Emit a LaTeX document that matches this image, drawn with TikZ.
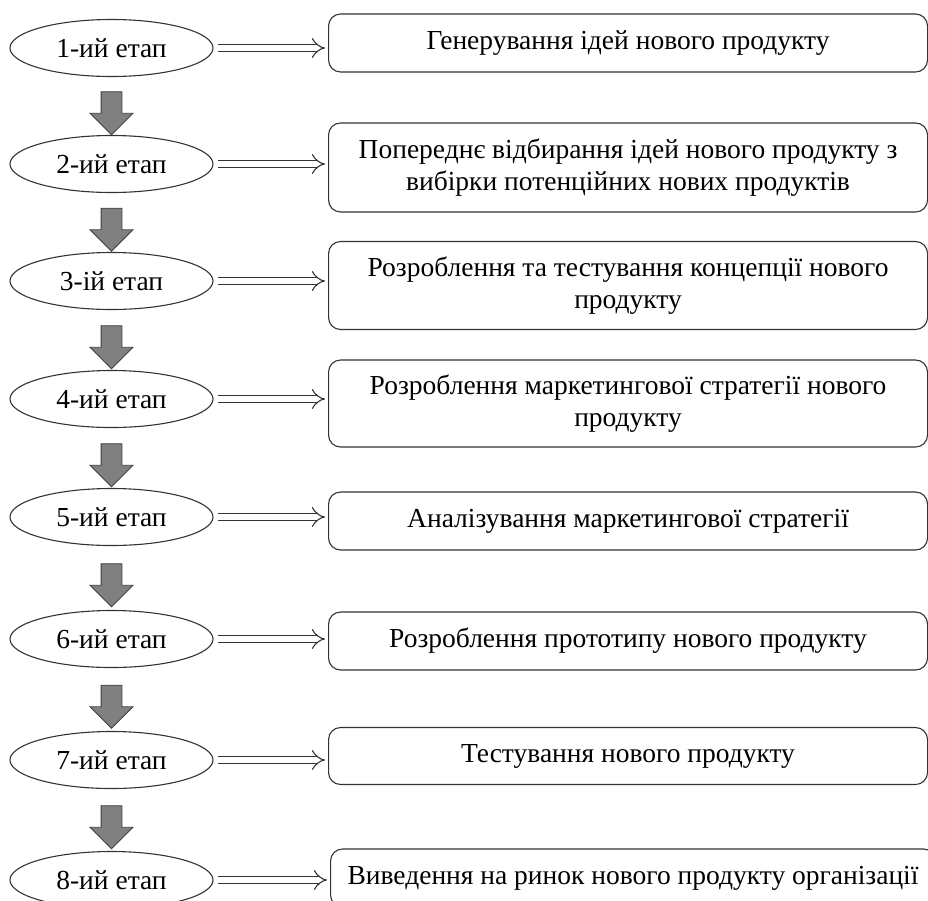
\documentclass[tikz,border=0pt]{standalone}
\usepackage{fontspec}
\setmainfont{Liberation Serif}
\usetikzlibrary{calc, shapes.geometric, shapes.arrows, arrows.meta}

\tikzset{
  etap/.style={ellipse, draw=black!80, line width=1.1pt, minimum width=203pt,
    minimum height=57pt, inner sep=0pt, font=\fontsize{27.5}{31.5}\selectfont},
  zmist/.style={rectangle, rounded corners=12pt, draw=black!80, line width=1.1pt,
    anchor=west, minimum width=599pt, minimum height=58pt, align=center,
    font=\fontsize{27.5}{31.5}\selectfont},
  dbl/.style={draw=black!80, double, double distance=6pt, line width=1.1pt,
    -{Implies}, shorten <=4pt, shorten >=3pt},
  vniz/.style={single arrow, draw=black!75, fill=black!50, line width=0.8pt,
    rotate=-90, minimum height=43pt, inner xsep=0pt, inner ysep=10pt,
    single arrow head extend=11pt}
}

\begin{document}
\begin{tikzpicture}[x=1pt,y=-1pt]
    \useasboundingbox (0,0) rectangle (928,900);
    % stages
    \foreach \i/\y/\s in {1/48/ий,2/164/ий,3/281/ій,4/399/ий,5/517/ий,6/639/ий,7/760/ий,8/880/ий}
        \node[etap] (e\i) at (111.5,\y) {\i-\s{} етап};
    % contents
    \node[zmist] (b1) at (328,43) {Генерування ідей нового продукту};
    \node[zmist, minimum height=89pt] (b2) at (328,167.5)
        {Попереднє відбирання ідей нового продукту з\\вибірки потенційних нових продуктів};
    \node[zmist, minimum height=88pt] (b3) at (328,285.5)
        {Розроблення та тестування концепції нового\\продукту};
    \node[zmist, minimum height=87pt] (b4) at (328,403.5)
        {Розроблення маркетингової стратегії нового\\продукту};
    \node[zmist] (b5) at (328,521) {Аналізування маркетингової стратегії};
    \node[zmist] (b6) at (328,641) {Розроблення прототипу нового продукту};
    \node[zmist, minimum height=57pt] (b7) at (328,756) {Тестування нового продукту};
    \node[zmist, minimum width=605pt] (b8) at (330,878)
        {Виведення на ринок нового продукту організації};
    % arrows
    \foreach \i in {1,...,8}
        \draw[dbl] (e\i.east) -- (e\i.east -| b\i.west);
    \foreach \i [count=\j from 2] in {1,...,7}
        \node[vniz] (s\i) at ($(e\i.south)!0.5!(e\j.north)+(0,2)$) {};
\end{tikzpicture}
\end{document}
